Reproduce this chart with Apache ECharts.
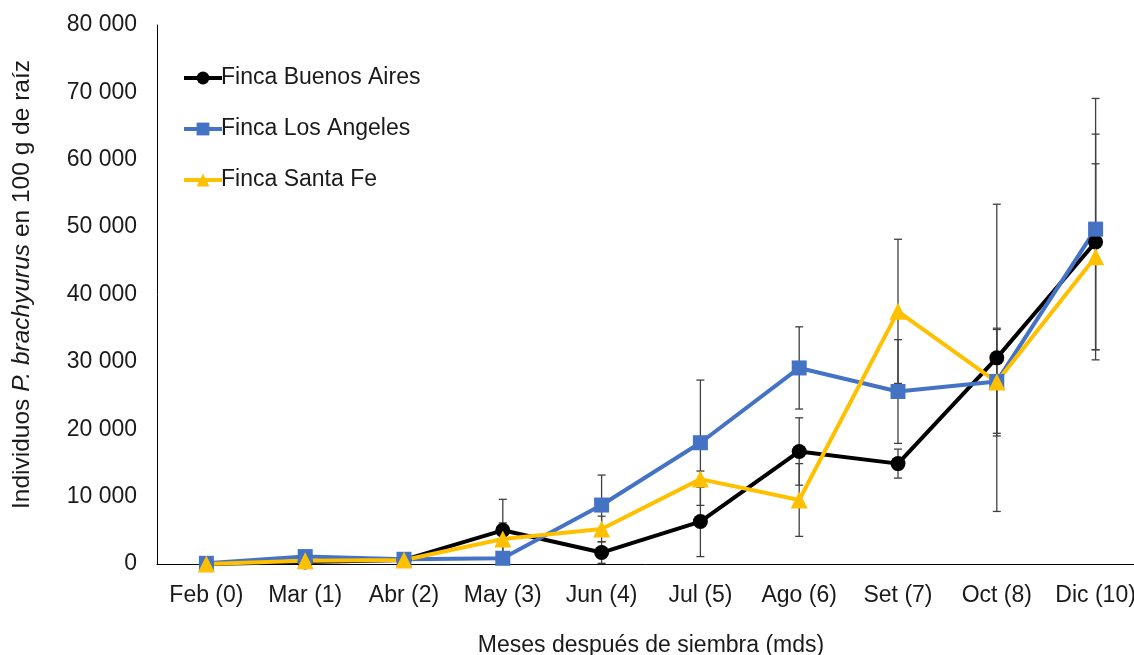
<!DOCTYPE html>
<html>
<head>
<meta charset="utf-8">
<script src="https://cdn.jsdelivr.net/npm/echarts@6/dist/echarts.min.js"></script>
<style>
  html, body { margin: 0; padding: 0; background: #fff; }
  #chart { width: 1134px; height: 655px; }
</style>
</head>
<body>
<div id="chart"></div>
<script>
// Sampling months (months after sowing)
const months = ['Feb (0)', 'Mar (1)', 'Abr (2)', 'May (3)', 'Jun (4)', 'Jul (5)', 'Ago (6)', 'Set (7)', 'Oct (8)', 'Dic (10)'];

// Mean individuals per 100 g of root, per farm
const buenosAires = [0, 300, 600, 5000, 1700, 6300, 16700, 14900, 30600, 47800];
const losAngeles  = [100, 1100, 700, 850, 8750, 18000, 29100, 25600, 27100, 49700];
const santaFe     = [0, 500, 600, 3700, 5200, 12600, 9500, 37500, 27000, 45600];

// Standard deviations (symmetric error bars)
const buenosAiresErr = [0, 300, 300, 4600, 1600, 5200, 5000, 2150, 22800, 16000];
const losAngelesErr  = [0, 300, 300, 300, 4450, 9300, 6100, 7700, 7700, 19400];
const santaFeErr     = [0, 300, 300, 2400, 1900, 1200, 5400, 10700, 8000, 13800];

// Y axis ticks
const yMin = 0, yMax = 80000, yStep = 10000;

const fmtThousands = v => String(v).replace(/\B(?=(\d{3})+(?!\d))/g, ' ');

function errorSeries(means, errs) {
  const data = means.map((m, i) => [i, m - errs[i], m + errs[i], errs[i]]);
  return {
    type: 'custom',
    silent: true,
    z: 1,
    clip: false,
    data: data,
    encode: { x: 0, y: [1, 2] },
    renderItem: function (params, api) {
      if (!api.value(3)) return null;
      const idx = api.value(0);
      const lo = api.coord([idx, api.value(1)]);
      const hi = api.coord([idx, api.value(2)]);
      const cap = 4;
      const style = { stroke: '#404040', lineWidth: 1.3, fill: null };
      return {
        type: 'group',
        children: [
          { type: 'line', shape: { x1: lo[0], y1: lo[1], x2: hi[0], y2: hi[1] }, style: style },
          { type: 'line', shape: { x1: hi[0] - cap, y1: hi[1], x2: hi[0] + cap, y2: hi[1] }, style: style },
          { type: 'line', shape: { x1: lo[0] - cap, y1: lo[1], x2: lo[0] + cap, y2: lo[1] }, style: style }
        ]
      };
    }
  };
}

function lineSeries(name, values, color, symbol, size) {
  return {
    name: name,
    type: 'line',
    z: 3,
    data: values,
    symbol: symbol,
    symbolSize: size,
    showAllSymbol: true,
    lineStyle: { color: color, width: 4 },
    itemStyle: { color: color, borderWidth: 0 },
    emphasis: { disabled: true }
  };
}

const chart = echarts.init(document.getElementById('chart'), null, { renderer: 'canvas' });

const baseFont = { fontFamily: 'Liberation Sans, Arial, sans-serif', fontSize: 23, color: '#1a1a1a' };

chart.setOption({
  animation: false,
  backgroundColor: '#ffffff',
  grid: { left: 157, top: 25, height: 539, width: 988, containLabel: false, outerBoundsMode: 'none' },
  legend: {
    orient: 'vertical',
    left: 177,
    top: 61,
    itemWidth: 38,
    itemHeight: 16,
    itemGap: 27,
    lineStyle: { width: 4 },
    textStyle: Object.assign({}, baseFont, { padding: [0, 0, 0, -6], lineHeight: 24 }),
    data: ['Finca Buenos Aires', 'Finca Los Angeles', 'Finca Santa Fe']
  },
  xAxis: {
    type: 'category',
    data: months,
    boundaryGap: true,
    axisLine: { show: true, lineStyle: { color: '#000', width: 1 } },
    axisTick: { show: false },
    axisLabel: Object.assign({}, baseFont, { margin: 20, interval: 0 }),
    name: 'Meses después de siembra (mds)',
    nameLocation: 'middle',
    nameGap: 70,
    nameTextStyle: baseFont,
    splitLine: { show: false }
  },
  yAxis: {
    type: 'value',
    min: yMin,
    max: yMax,
    interval: yStep,
    axisLine: { show: true, lineStyle: { color: '#000', width: 1 } },
    axisTick: { show: false },
    splitLine: { show: false },
    axisLabel: Object.assign({}, baseFont, { margin: 20, formatter: fmtThousands }),
    name: '{n|Individuos }{i|P. brachyurus}{n| en 100 g de raíz}',
    nameLocation: 'middle',
    nameRotate: 90,
    nameGap: 122,
    nameTextStyle: {
      padding: [0, 0, 0, 20],
      rich: {
        n: Object.assign({}, baseFont, { fontSize: 24.5 }),
        i: Object.assign({}, baseFont, { fontSize: 24.5, fontStyle: 'italic' })
      }
    }
  },
  series: [
    errorSeries(buenosAires, buenosAiresErr),
    errorSeries(losAngeles, losAngelesErr),
    errorSeries(santaFe, santaFeErr),
    lineSeries('Finca Buenos Aires', buenosAires, '#000000', 'circle', 15),
    lineSeries('Finca Los Angeles', losAngeles, '#4472C4', 'rect', 15),
    lineSeries('Finca Santa Fe', santaFe, '#FFC000', 'triangle', 17)
  ]
});
</script>
</body>
</html>
